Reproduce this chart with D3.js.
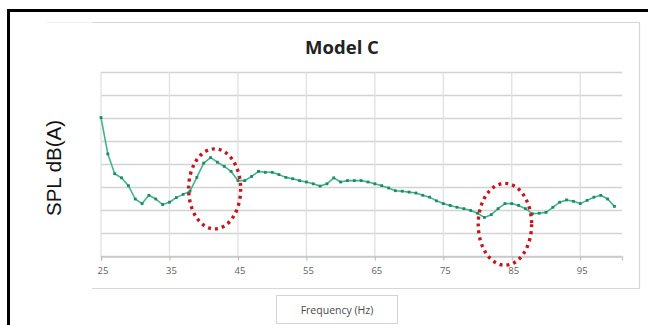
<!DOCTYPE html>
<html>
<head>
<meta charset="utf-8">
<script src="https://cdn.jsdelivr.net/npm/d3@7/dist/d3.min.js"></script>
<style>
  html, body { margin: 0; padding: 0; background: #fff; }
  svg { display: block; }
</style>
</head>
<body>
<svg id="chart" width="648" height="325"></svg>
<script>
// Frequency sweep, 1 Hz steps
const frequencies = d3.range(25, 101);
// Measured sound pressure level per frequency, dB(A)
const splValues = [
  60.2, 52.3, 48.0, 47.1, 45.4, 42.5, 41.5, 43.3, 42.5, 41.3,
  41.8, 42.8, 43.5, 44.2, 47.2, 50.3, 51.5, 50.5, 49.6, 48.5,
  46.5, 46.5, 47.4, 48.5, 48.3, 48.3, 47.8, 47.2, 46.9, 46.5,
  46.2, 45.8, 45.3, 45.8, 47.1, 46.2, 46.5, 46.5, 46.5, 46.2,
  45.8, 45.4, 44.9, 44.3, 44.2, 44.0, 43.8, 43.3, 42.9, 42.1,
  41.5, 41.1, 40.7, 40.4, 40.0, 39.4, 38.5, 39.1, 40.4, 41.5,
  41.5, 41.1, 40.4, 39.3, 39.4, 39.6, 40.7, 41.8, 42.3, 42.0,
  41.5, 42.2, 42.9, 43.3, 42.5, 40.9
];
const xTicks = [25, 35, 45, 55, 65, 75, 85, 95];
const yGrid = [30, 35, 40, 45, 50, 55, 60, 65, 70];
// Highlighted resonance regions: centre frequency, centre level, half-widths
const highlightFreq = [41.6, 84.0];
const highlightLevel = [44.7, 37.0];
const highlightFreqSpan = [3.8, 3.9];
const highlightLevelSpan = [8.7, 8.9];

const svg = d3.select("#chart");

// outer dark frame (left and top edges)
svg.append("line").attr("x1", 8.5).attr("x2", 8.5).attr("y1", 9).attr("y2", 325)
  .attr("stroke", "#000").attr("stroke-width", 3);
svg.append("line").attr("x1", 7).attr("x2", 648).attr("y1", 10.5).attr("y2", 10.5)
  .attr("stroke", "#000").attr("stroke-width", 3);

// chart area border (top, right, bottom)
svg.append("path").attr("d", "M92,22.5H639.5V288.5H92")
  .attr("fill", "none").attr("stroke", "#d6d6d6").attr("stroke-width", 1.2);
svg.append("line").attr("x1", 47).attr("x2", 92).attr("y1", 22.5).attr("y2", 22.5)
  .attr("stroke", "#f0f0f0").attr("stroke-width", 1);

const x = d3.scaleLinear().domain([25, 101.1]).range([101, 622]);
const y = d3.scaleLinear().domain([30, 70]).range([256.5, 72.5]);

// horizontal gridlines
svg.append("g").selectAll("line").data(yGrid).join("line")
  .attr("x1", x(25)).attr("x2", x(101.1))
  .attr("y1", d => y(d)).attr("y2", d => y(d))
  .attr("stroke", "#d3d3d3").attr("stroke-width", 1.6);

// vertical gridlines
svg.append("g").selectAll("line").data(xTicks).join("line")
  .attr("x1", d => x(d)).attr("x2", d => x(d))
  .attr("y1", y(70)).attr("y2", y(30))
  .attr("stroke", "#e0e0e0").attr("stroke-width", 1.3);

// x axis with ticks and labels
const xAxis = d3.axisBottom(x).tickValues(xTicks).tickSize(4).tickPadding(7).tickFormat(d3.format("d"));
const gx = svg.append("g").attr("transform", `translate(0,${y(30)})`).call(xAxis);
gx.select(".domain").attr("stroke", "#c8c8c8").attr("stroke-width", 1.4);
gx.selectAll(".tick line").attr("stroke", "#b8b8b8");
gx.selectAll(".tick text").attr("fill", "#5f5f5f").attr("dx", 1.5)
  .style("font-family", "'Open Sans', sans-serif").style("font-size", "9.5px");

// data line
const line = d3.line().x((d, i) => x(frequencies[i])).y(d => y(d));
svg.append("path").datum(splValues).attr("d", line)
  .attr("fill", "none").attr("stroke", "#3fb58c").attr("stroke-width", 1.6)
  .attr("stroke-linejoin", "round");

// point markers
svg.append("g").selectAll("rect").data(splValues).join("rect")
  .attr("x", (d, i) => x(frequencies[i]) - 1.4)
  .attr("y", d => y(d) - 1.4)
  .attr("width", 2.8).attr("height", 2.8)
  .attr("fill", "#1d8a62");

// dotted ellipses marking the resonance regions
svg.append("g").selectAll("ellipse").data(highlightFreq).join("ellipse")
  .attr("cx", d => x(d))
  .attr("cy", (d, i) => y(highlightLevel[i]))
  .attr("rx", (d, i) => x(d + highlightFreqSpan[i]) - x(d))
  .attr("ry", (d, i) => y(highlightLevel[i] - highlightLevelSpan[i]) - y(highlightLevel[i]))
  .attr("fill", "none").attr("stroke", "#c4161c").attr("stroke-width", 3.4)
  .attr("stroke-dasharray", "3 4");

// title
svg.append("text").attr("x", 342).attr("y", 54).attr("text-anchor", "middle")
  .style("font-family", "'Open Sans', sans-serif").style("font-weight", "bold")
  .style("font-size", "18.5px").attr("fill", "#222").text("Model C");

// y axis title
svg.append("text").attr("transform", "translate(61,168) rotate(-90)")
  .attr("text-anchor", "middle")
  .style("font-family", "'Liberation Sans', Arial, sans-serif")
  .style("font-size", "20.5px").attr("fill", "#111").text("SPL dB(A)");

// x axis title in its box
svg.append("rect").attr("x", 276.5).attr("y", 295.5).attr("width", 121).attr("height", 28)
  .attr("fill", "#fff").attr("stroke", "#d4d4d4").attr("stroke-width", 1);
svg.append("text").attr("x", 337).attr("y", 313.5).attr("text-anchor", "middle")
  .style("font-family", "'Open Sans', sans-serif").style("font-size", "10.5px")
  .attr("fill", "#4a4a4a").text("Frequency (Hz)");
</script>
</body>
</html>
